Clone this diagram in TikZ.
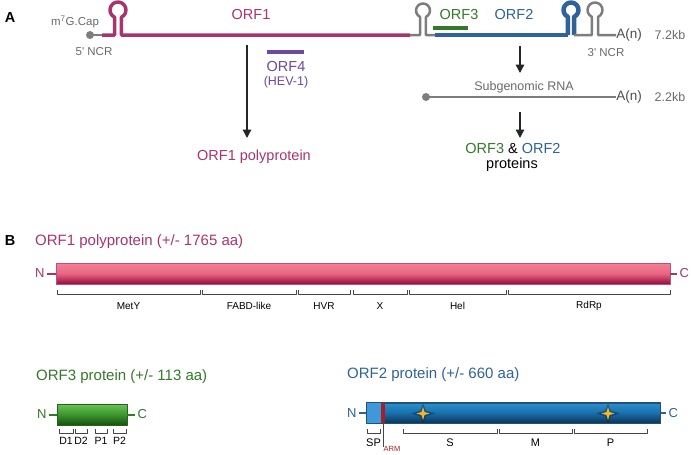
\documentclass[tikz,border=0pt]{standalone}
\usepackage{fontspec}
\setmainfont{Liberation Sans}
\usetikzlibrary{positioning, arrows.meta}
\definecolor{orfone}{RGB}{168,52,110}
\definecolor{orftwo}{RGB}{46,98,152}
\definecolor{orfthree}{RGB}{52,120,42}
\definecolor{orffour}{RGB}{108,72,160}
\definecolor{rnagrey}{RGB}{125,125,125}
\definecolor{txtgrey}{RGB}{105,105,105}
\definecolor{brgrey}{RGB}{70,70,70}
\definecolor{armred}{RGB}{165,30,40}
\definecolor{pinktop}{RGB}{245,128,148}
\definecolor{pinkmid}{RGB}{232,102,130}
\definecolor{pinkbot}{RGB}{150,12,62}
\definecolor{greentop}{RGB}{105,195,85}
\definecolor{greenmid}{RGB}{60,150,45}
\definecolor{greenbot}{RGB}{22,80,16}
\definecolor{bluetop}{RGB}{40,145,205}
\definecolor{bluemid}{RGB}{26,110,170}
\definecolor{bluebot}{RGB}{10,52,88}
\definecolor{spblue}{RGB}{62,152,218}
\definecolor{staror}{RGB}{246,180,40}
\definecolor{navy}{RGB}{15,35,70}

\begin{document}
\begin{tikzpicture}[x=1pt, y=-1pt, line join=round,
    every node/.style={inner sep=0pt, font=\fontsize{14.5}{16}\selectfont},
    panel/.style={font=\fontsize{14.5}{16}\selectfont\bfseries},
    small/.style={text=txtgrey, font=\fontsize{11.5}{13}\selectfont},
    mid/.style={text=txtgrey, font=\fontsize{12.5}{14}\selectfont},
    title/.style={anchor=west, font=\fontsize{15}{17}\selectfont},
    dom/.style={font=\fontsize{10}{11}\selectfont},
    term/.style={inner sep=2pt, font=\fontsize{13}{15}\selectfont},
    arr/.style={line width=1.4pt, -{Triangle[length=8.5pt, width=8.5pt]}, black!85},
    brack/.style={brgrey, line width=0.8pt},
    pinkbar/.style={draw=orfone!85, line width=0.8pt, top color=pinktop, bottom color=pinkbot, middle color=pinkmid},
    greenbar/.style={draw=orfthree!80!black, line width=0.8pt, top color=greentop, bottom color=greenbot, middle color=greenmid},
    bluebar/.style={draw=orftwo!80!black, line width=0.8pt, top color=bluetop, bottom color=bluebot, middle color=bluemid}]
    \useasboundingbox (0,0) rectangle (691,455);

    % A: genome
    \node[panel] (lblA) at (10,18) {A};
    \node[small] (cap) at (75,22) {m\textsuperscript{7}G.Cap};
    \node[small] (ncr5) at (94,52) {5\textquotesingle{} NCR};
    \node[small] (ncr3) at (606,53) {3\textquotesingle{} NCR};
    \node[mid, text=black!70, font=\fontsize{13.5}{15}\selectfont] (An1) at (629,35) {A(n)};
    \node[mid] (kb1) at (670,35) {7.2kb};
    \coordinate (cap5) at (90,35);
    \fill[rnagrey] (cap5) circle (4);
    \draw[rnagrey, line width=2.5pt] (cap5) -- (102,35);
    \draw[orfone, line width=3.5pt] (102,35) -- (114.6,35) -- (114.6,17.25)
        arc[start angle=115, end angle=425, radius=8] -- (121.4,35) -- (410,35);
    \draw[rnagrey, line width=2.5pt] (410,35) -- (420.04,35) -- (420.04,16.84)
        arc[start angle=115, end angle=425, radius=7] -- (425.96,35) -- (435,35);
    \draw[orftwo, line width=3.5pt] (435,35) -- (567.83,35);
    \draw[orftwo, line width=4.5pt] (567.83,35) -- (567.83,16.8)
        arc[start angle=115, end angle=425, radius=7.5] -- (574.17,35);
    \draw[rnagrey, line width=2.5pt] (574.17,35) -- (591.83,35) -- (591.83,16.8)
        arc[start angle=115, end angle=425, radius=7.5] -- (598.17,35) -- (An1.west);
    \draw[orfthree, line width=3.5pt] (433,28) -- (468,28);
    \draw[orffour, line width=3.5pt] (267,52) -- (304,52);
    \node[text=orfone] (orf1) at (251,15) {ORF1};
    \node[text=orfthree] (orf3) at (459,15) {ORF3};
    \node[text=orftwo] (orf2) at (514,15) {ORF2};
    \node[text=orffour] (orf4) at (286,67) {ORF4};
    \node[text=orffour, font=\fontsize{12.5}{14}\selectfont] (hev) at (286,82) {(HEV-1)};

    \coordinate (p1) at (247,45);
    \coordinate (p1e) at (247,138);
    \draw[arr] (p1) -- (p1e);
    \node[text=orfone] (poly) at (254,157) {ORF1 polyprotein};

    \coordinate (s1) at (520,46);
    \coordinate (s1e) at (520,73);
    \draw[arr] (s1) -- (s1e);
    \node[mid] (sgrna) at (524,87) {Subgenomic RNA};
    \node[mid, text=black!70, font=\fontsize{13.5}{15}\selectfont] (An2) at (629,97) {A(n)};
    \node[mid] (kb2) at (670,97) {2.2kb};
    \coordinate (sg5) at (426,97);
    \fill[rnagrey] (sg5) circle (4);
    \draw[rnagrey, line width=2.5pt] (sg5) -- (An2.west);
    \coordinate (s2) at (520,112);
    \coordinate (s2e) at (520,138);
    \draw[arr] (s2) -- (s2e);
    \node (prot) at (513,149) {\textcolor{orfthree}{ORF3} \& \textcolor{orftwo}{ORF2}};
    \node (protb) at (512,165) {proteins};

    % B: proteins
    \node[panel] (lblB) at (10,241) {B};
    \node[title, text=orfone] (t1) at (35,242) {ORF1 polyprotein (+/- 1765 aa)};
    \node[pinkbar, minimum width=614pt, minimum height=21pt] (orf1bar) at (363,273.5) {};
    \node[term, text=orfone, left=9pt of orf1bar] (n1) {N};
    \node[term, text=orfone, right=7pt of orf1bar] (c1) {C};
    \draw[orfone, line width=2pt] (n1) -- (orf1bar);
    \draw[orfone, line width=2pt] (orf1bar) -- (c1);
    \foreach \a/\b/\t in {57/200/MetY, 202/296/FABD-like, 298/350/HVR, 353/407/X, 409/506/Hel, 508/670/RdRp} {
        \draw[brack] (\a,290) -- (\a,294.5) -- (\b,294.5) -- (\b,290);
        \node[dom] (d-\t) at ({(\a+\b)/2},306) {\t};
    }

    \node[title, text=orfthree] (t3) at (36,377) {ORF3 protein (+/- 113 aa)};
    \node[greenbar, minimum width=70pt, minimum height=21pt] (orf3bar) at (92,414.5) {};
    \node[term, text=orfthree, left=8pt of orf3bar] (n3) {N};
    \node[term, text=orfthree, right=8pt of orf3bar] (c3) {C};
    \draw[orfthree, line width=2pt] (n3) -- (orf3bar);
    \draw[orfthree, line width=2pt] (orf3bar) -- (c3);
    \foreach \a/\b/\t in {59/73/D1, 75/87/D2, 95/107/P1, 113/126/P2} {
        \draw[brack] (\a,429) -- (\a,433) -- (\b,433) -- (\b,429);
        \node[dom, font=\fontsize{10.5}{12}\selectfont] (d-\t) at ({(\a+\b)/2},441) {\t};
    }

    \node[title, text=orftwo] (t2) at (347,375) {ORF2 protein (+/- 660 aa)};
    \node[bluebar, minimum width=293pt, minimum height=20pt] (orf2bar) at (513.5,413) {};
    \node[term, text=orftwo, left=8pt of orf2bar] (n2) {N};
    \node[term, text=orftwo, right=6pt of orf2bar] (c2) {C};
    \draw[orftwo, line width=2pt] (n2) -- (orf2bar);
    \draw[orftwo, line width=2pt] (orf2bar) -- (c2);
    \fill[spblue] (367,403) rectangle (381,423);
    \fill[armred] (381,403.4) rectangle (385,422.6);
    \foreach \x in {423,608} {
        \fill[navy, opacity=0.45] (\x+12,413.5) -- (\x+2.8,410.7) -- (\x,403.5) -- (\x-2.8,410.7) -- (\x-12,413.5)
            -- (\x-2.8,416.3) -- (\x,423) -- (\x+2.8,416.3) -- cycle;
        \fill[staror] (\x+6.5,413.5) -- (\x+1.5,412) -- (\x,407) -- (\x-1.5,412) -- (\x-6.5,413.5)
            -- (\x-1.5,415) -- (\x,420) -- (\x+1.5,415) -- cycle;
    }
    \draw[draw=orftwo!80!black, line width=0.8pt] (orf2bar.north west) rectangle (orf2bar.south east);
    \draw[brack] (383,423) -- (383,447);
    \node[text=armred, font=\fontsize{7.5}{8}\selectfont] (arm) at (392,449) {ARM};
    \foreach \a/\b/\t in {367/380/SP, 403/497/S, 499/572/M, 574/647/P} {
        \draw[brack] (\a,429) -- (\a,433) -- (\b,433) -- (\b,429);
        \node[dom, font=\fontsize{11}{12}\selectfont] (d-\t) at ({(\a+\b)/2},443) {\t};
    }
\end{tikzpicture}
\end{document}
